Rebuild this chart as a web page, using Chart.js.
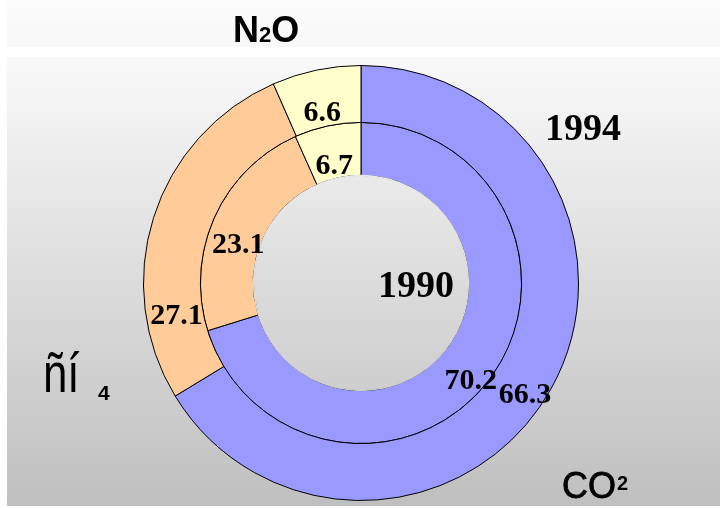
<!DOCTYPE html>
<html>
<head>
<meta charset="utf-8">
<script src="https://cdn.jsdelivr.net/npm/chart.js@4/dist/chart.umd.min.js"></script>
<style>
html,body{margin:0;padding:0;background:#fff;}
#c{position:absolute;left:0;top:0;}
</style>
</head>
<body>
<canvas id="c" width="720" height="508"></canvas>
<script>
// ---- data ----
const categories = ['CO2', 'CH4', 'N2O'];
const years = ['1994', '1990'];          // outer ring, inner ring
const values1994 = [66.3, 27.1, 6.6];
const values1990 = [70.2, 23.1, 6.7];
const sliceColors = ['#9999ff', '#ffcc99', '#ffffcc'];

function panelGradient(ctx) {
  const g = ctx.createLinearGradient(0, 57, 0, 506);
  g.addColorStop(0, '#f9f9f9');
  g.addColorStop(1, '#bfbfbf');
  return g;
}

const backgroundPlugin = {
  id: 'bg',
  beforeDraw(chart) {
    const ctx = chart.ctx;
    ctx.save();
    ctx.fillStyle = '#ffffff';
    ctx.fillRect(0, 0, chart.width, chart.height);
    const t = ctx.createLinearGradient(0, 0, 0, 47);
    t.addColorStop(0, '#fcfcfc');
    t.addColorStop(1, '#f8f8f8');
    ctx.fillStyle = t;
    ctx.fillRect(7, 0, chart.width - 7, 47);
    ctx.fillStyle = panelGradient(ctx);
    ctx.fillRect(7, 57, chart.width - 7, 449);
    ctx.restore();
  }
};

const labelPlugin = {
  id: 'sliceLabels',
  afterDatasetsDraw(chart, args, opts) {
    const ctx = chart.ctx;
    ctx.save();
    // hide the border of the hole (the reference has none there)
    const innerMeta = chart.getDatasetMeta(1);
    if (innerMeta.data.length) {
      const a = innerMeta.data[0].getProps(['x', 'y', 'innerRadius'], true);
      ctx.beginPath();
      ctx.arc(a.x, a.y, a.innerRadius - 0.3, 0, Math.PI * 2);
      ctx.lineWidth = 1.6;
      ctx.strokeStyle = panelGradient(ctx);
      ctx.stroke();
    }
    ctx.font = 'bold 30px "Liberation Serif", "Times New Roman", serif';
    ctx.fillStyle = '#000';
    ctx.textAlign = 'center';
    ctx.textBaseline = 'middle';
    chart.data.datasets.forEach((ds, di) => {
      const meta = chart.getDatasetMeta(di);
      meta.data.forEach((el, i) => {
        const p = el.getProps(['x', 'y', 'startAngle', 'endAngle', 'innerRadius', 'outerRadius'], true);
        const af = opts.angleFrac[di][i];
        const rf = opts.radiusFrac[di][i];
        const ang = p.startAngle + (p.endAngle - p.startAngle) * af;
        const r = p.innerRadius + (p.outerRadius - p.innerRadius) * rf;
        ctx.fillText(String(ds.data[i]), p.x + Math.cos(ang) * r, p.y + Math.sin(ang) * r + 1);
      });
    });
    ctx.restore();
  }
};

const textPlugin = {
  id: 'freeText',
  afterDraw(chart) {
    const ctx = chart.ctx;
    ctx.save();
    ctx.fillStyle = '#000';
    ctx.textAlign = 'left';
    ctx.textBaseline = 'alphabetic';
    const sans = '"Liberation Sans", Arial, sans-serif';
    const serif = '"Liberation Serif", "Times New Roman", serif';
    // N2O
    ctx.font = 'bold 36px ' + sans;
    let x = 233;
    ctx.fillText('N', x, 42); x += ctx.measureText('N').width;
    ctx.font = 'bold 22px ' + sans;
    ctx.fillText('2', x, 42); x += ctx.measureText('2').width;
    ctx.font = 'bold 36px ' + sans;
    ctx.fillText('O', x, 42);
    // years
    ctx.font = 'bold 38px ' + serif;
    ctx.fillText(years[0], 545, 140);
    ctx.fillText(years[1], 378, 297);
    // CH4 (garbled in the original)
    ctx.save();
    ctx.translate(43, 392);
    ctx.scale(0.78, 1);
    ctx.font = '56px ' + sans;
    ctx.fillText('ñí', 0, 0);
    ctx.restore();
    ctx.font = 'bold 21px ' + sans;
    ctx.fillText('4', 98, 400);
    // CO2
    ctx.font = '36px ' + sans;
    ctx.lineWidth = 0.8;
    ctx.strokeStyle = '#000';
    ctx.fillText('CO', 562, 498);
    ctx.strokeText('CO', 562, 498);
    const w = ctx.measureText('CO').width;
    ctx.font = 'bold 20px ' + sans;
    ctx.fillText('2', 562 + w + 1, 490);
    ctx.restore();
  }
};

new Chart(document.getElementById('c'), {
  type: 'doughnut',
  data: {
    labels: categories,
    datasets: [
      { label: years[0], data: values1994, backgroundColor: sliceColors, borderColor: '#000', borderWidth: 1, weight: 57 },
      { label: years[1], data: values1990, backgroundColor: sliceColors, borderColor: '#000', borderWidth: 1, weight: 53 }
    ]
  },
  options: {
    responsive: false,
    animation: false,
    devicePixelRatio: 1,
    cutout: '49.5%',
    layout: { padding: { left: 143, right: 141, top: 65, bottom: 7 } },
    plugins: {
      legend: { display: false },
      tooltip: { enabled: false },
      sliceLabels: {
        angleFrac: [[0.52, 0.22, 0.46], [0.52, 0.42, 0.47]],
        radiusFrac: [[0.66, 0.47, 0.25], [0.73, 0.40, 0.25]]
      }
    }
  },
  plugins: [backgroundPlugin, labelPlugin, textPlugin]
});
</script>
</body>
</html>
